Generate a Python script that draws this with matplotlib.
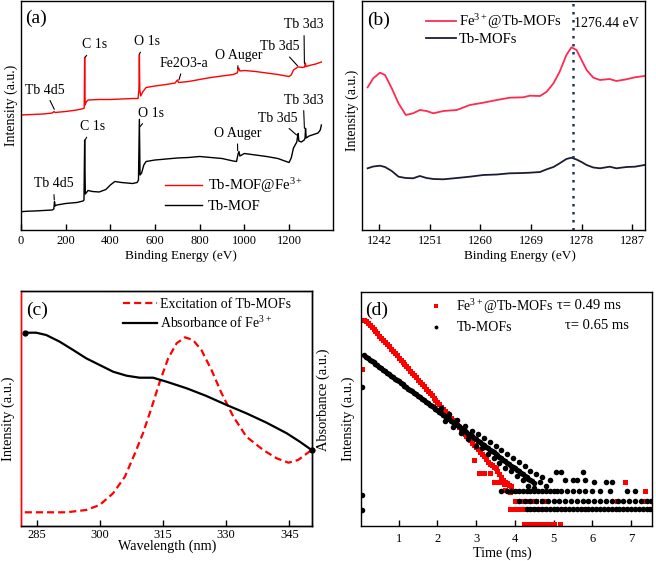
import matplotlib
matplotlib.use("Agg")
import matplotlib.pyplot as plt

plt.rcParams['font.family'] = ['Liberation Serif', 'DejaVu Serif']
plt.rcParams['mathtext.fontset'] = 'custom'
plt.rcParams['mathtext.rm'] = 'Liberation Serif'
plt.rcParams['mathtext.it'] = 'Liberation Serif:italic'

# ---------------- (a) XPS survey ----------------
survey_red_e = [0, 50, 100, 140, 148, 152, 200, 250, 280, 283, 285, 287, 292, 300, 350, 400, 450, 500,
                524, 528, 530, 532, 536, 545, 560, 600, 650, 690, 700, 705, 750, 800, 850, 900, 950,
                968, 975, 980, 1000, 1050, 1100, 1150, 1200, 1210, 1220, 1240, 1245, 1260, 1270,
                1273, 1276, 1300, 1320, 1345]
survey_red_i = [115, 115.5, 116, 117, 118.5, 117.5, 118.5, 120, 121.5, 122, 172.7, 125, 128, 130, 130.5,
                130.5, 131, 131.5, 131.5, 140, 175.5, 140, 134, 138, 142.5, 144, 145.5, 147, 150, 147.5,
                148.5, 150.5, 152.5, 154, 155.5, 157, 162, 159, 159.5, 158.5, 157, 155.5, 153.5, 155,
                160, 163, 163, 162.5, 163, 167, 163.5, 165, 166, 168]
survey_blk_e = [0, 30, 60, 100, 140, 147, 150, 153, 160, 200, 250, 278, 282, 285, 288, 295, 300, 320,
                350, 380, 400, 420, 450, 500, 520, 526, 530, 533, 540, 550, 560, 600, 650, 700, 750,
                800, 850, 900, 950, 965, 972, 976, 980, 1000, 1050, 1100, 1150, 1200, 1210, 1220,
                1235, 1238, 1241, 1244, 1255, 1268, 1272, 1274, 1277, 1290, 1310, 1330, 1340, 1345]
survey_blk_i = [18.3, 18.8, 19, 19.5, 20, 21, 28.3, 24, 25, 26.5, 27.5, 29, 30, 90, 36, 38, 39.5, 38.5,
                38, 40.5, 45, 48.5, 47.5, 46.5, 47.5, 50, 110.7, 55, 57, 65, 68.5, 70, 71, 72, 72.5,
                73.5, 72.5, 71.5, 69, 68.5, 76, 78.5, 74, 76.5, 75, 73.5, 71.5, 67.5, 72, 82, 88, 93,
                96.5, 89, 88, 90, 92, 101.7, 92, 94, 95.5, 97, 100, 105]
peak_names_red = ["Tb 4d5", "C 1s", "O 1s", "Fe2O3-a", "O Auger", "Tb 3d5", "Tb 3d3"]
peak_names_blk = ["Tb 4d5", "C 1s", "O 1s", "O Auger", "Tb 3d5", "Tb 3d3"]

# ---------------- (b) Tb 3d region ----------------
tb3d_e = [1239.9, 1240.9, 1242.1, 1243.0, 1244.2, 1245.4, 1246.7, 1248.0, 1249.2, 1250.4, 1251.6,
          1253.4, 1255.8, 1258.1, 1260.5, 1262.9, 1265.2, 1267.6, 1268.8, 1270.6, 1271.8, 1273.0,
          1274.1, 1275.3, 1276.2, 1277.1, 1278.0, 1278.9, 1280.1, 1281.3, 1283.0, 1284.2, 1286.0,
          1287.5, 1289.2]
tb3d_fe = [142.7, 151.7, 157.3, 155, 141.7, 126.7, 115, 116.7, 120, 119, 116.7, 119, 120, 125, 127.3,
           130, 132.3, 132.7, 134.3, 134, 138.3, 146.7, 158.3, 175, 182.7, 180, 170, 160, 152.3, 150,
           151, 149, 150.7, 152.7, 154]
tb3d_mof = [61.7, 63.5, 64.3, 63, 59, 53.3, 52, 51.7, 54, 52, 51, 50.7, 52, 53.3, 55, 55.5, 56.7, 57,
            57.3, 58, 60.7, 63, 66.7, 71, 72.3, 70.5, 68, 65, 62.5, 61.7, 63.3, 61.7, 63, 63.3, 65]
peak_pos = 1276.44

# ---------------- (c) spectral overlap ----------------
wl_abs = [282.1, 284.8, 287.2, 290.4, 293.6, 296.7, 299.9, 303.1, 306.3, 309.4, 312.6, 315.8,
          320.6, 325.3, 330.1, 334.8, 339.6, 344.4, 347.5, 350.3]
absorb_fe = [193.3, 193.3, 191, 184.3, 176, 167.7, 161, 154.3, 150.3, 148.3, 148.3, 144.3,
             137.7, 130, 121, 112.7, 103.3, 92.7, 84.3, 76]
wl_exc = [282.1, 292.0, 296.7, 299.9, 303.1, 305.9, 308.3, 310.2, 312.2, 314.2, 316.2, 318.2,
          320.2, 322.1, 324.1, 326.5, 328.9, 331.7, 334.8, 338.8, 342.0, 344.8, 347.1, 350.3]
excit_tb = [13.7, 13.7, 16, 21, 32.7, 49.3, 72.7, 92.7, 117.7, 144.3, 167.7, 182.7, 188.7, 186,
            176, 156, 132.7, 109.3, 89.3, 76, 67.7, 63.3, 66, 76]

# ---------------- (d) decay curves ----------------
# main decay part
t_fe_decay = [0.1, 0.15, 0.2, 0.25, 0.3, 0.35, 0.4, 0.45, 0.5, 0.55, 0.6, 0.65, 0.7, 0.75, 0.8,
              0.85, 0.9, 0.95, 1.0, 1.05, 1.1, 1.15, 1.2, 1.25, 1.3, 1.35, 1.4, 1.45, 1.5, 1.55,
              1.6, 1.65, 1.7, 1.75, 1.8, 1.85, 1.9, 1.95, 2.0, 2.05, 2.1, 2.15, 2.2, 2.25, 2.3,
              2.35, 2.4, 2.45, 2.5, 2.55, 2.6, 2.65, 2.7, 2.75, 2.8, 2.85, 2.9, 2.95, 3.0, 3.05,
              3.1, 3.15, 3.2, 3.25, 3.3, 3.35, 3.4, 3.45, 3.5, 3.55, 3.6, 3.65, 3.7, 3.75, 3.8,
              3.85, 3.9]
i_fe_decay = [206.5, 204.8, 203, 201, 199, 197, 195, 192.8, 190.5, 188.5, 186.5, 184.3, 182,
              179.8, 177.5, 175.3, 173, 170.8, 168.5, 166.3, 164, 162, 160, 157.8, 155.5, 153.3,
              151, 148.8, 146.5, 144.3, 142, 139.8, 137.5, 135.3, 133, 130.8, 128.5, 126.3, 124,
              121.8, 119.5, 117.3, 115, 112.8, 110.5, 108.3, 106, 103.8, 101.5, 99.3, 97, 94.8,
              92.5, 90.3, 88, 85.8, 83.5, 81.3, 79, 76.8, 74.5, 72.3, 70, 67, 64, 62.5, 61, 59.5,
              58, 55, 52, 49, 46, 44.5, 43, 41.5, 40]
# stray points and quantised tail
t_fe_tail = [0.04, 2.94, 3.07, 3.19, 3.37, 3.45, 3.58, 3.71, 3.75, 3.88, 4.01,
             4.0, 4.1, 4.2, 4.3, 4.45, 4.55, 4.7, 4.8, 6.64, 7.37,
             3.88, 3.95, 4.05, 4.15, 4.25, 4.35, 4.45, 4.55, 4.65, 4.75, 5.26, 5.78,
             4.23, 4.3, 4.4, 4.5, 4.6, 4.7, 4.8, 4.9, 5.0, 5.17,
             6.85, 7.37]
i_fe_tail = [156.7, 66, 53.3, 53.3, 53.3, 44.3, 44.3, 42, 36, 34.3, 35.3,
             25, 25, 25, 25, 25, 25, 25, 25, 25, 25,
             16.7, 16.7, 16.7, 16.7, 16.7, 16.7, 16.7, 16.7, 16.7, 16.7, 16.7, 16.7,
             1.7, 1.7, 1.7, 1.7, 1.7, 1.7, 1.7, 1.7, 1.7, 1.7,
             44.3, 35.3]
t_tb_decay = [0.1, 0.15, 0.2, 0.25, 0.3, 0.35, 0.4, 0.45, 0.5, 0.55, 0.6, 0.65, 0.7, 0.75, 0.8,
              0.85, 0.9, 0.95, 1.0, 1.05, 1.1, 1.15, 1.2, 1.25, 1.3, 1.35, 1.4, 1.45, 1.5, 1.55,
              1.6, 1.65, 1.7, 1.75, 1.8, 1.85, 1.9, 1.95, 2.0, 2.05, 2.1, 2.15, 2.2, 2.25, 2.3,
              2.35, 2.4, 2.45, 2.5, 2.55, 2.6, 2.65, 2.7, 2.75, 2.8, 2.85, 2.9, 2.95, 3.0, 3.05,
              3.1, 3.15, 3.2, 3.25, 3.3, 3.35, 3.4, 3.45, 3.5, 3.55, 3.6, 3.65, 3.7, 3.75, 3.8,
              3.85, 3.9, 3.95, 4.0, 4.05, 4.1, 4.15, 4.2, 4.25, 4.3, 4.35, 4.4, 4.45, 4.5]
i_tb_decay = [171, 169.5, 168, 166.5, 165, 163.7, 162.3, 160.8, 159.3, 157.9, 156.5, 155, 153.5,
              152, 150.5, 149, 147.5, 146.1, 144.7, 143.3, 141.8, 140.4, 139, 137.5, 136, 134.6,
              133.2, 131.8, 130.3, 128.9, 127.4, 126, 124.5, 123, 121.5, 120, 118.6, 117.2,
              115.7, 114.3, 112.8, 111.4, 110, 108.5, 107, 105.5, 104, 102.6, 101.2, 99.8, 98.3,
              96.9, 95.4, 94, 92.5, 91, 89.6, 88.2, 86.7, 85.3, 83.8, 82.4, 80.9, 79.5, 78, 76.5,
              75, 73.6, 72.1, 70.7, 69.2, 67.8, 66.3, 64.9, 63.4, 62, 60.5, 59.1, 57.7, 56.3,
              54.8, 53.4, 52, 50.5, 49, 47.5, 46, 44.7, 43.3]
t_tb_tail = [0.04, 0.04, 0.04,
             2.1, 2.2, 2.3, 2.4, 2.5, 2.6, 2.7, 2.8, 2.9, 3.0, 3.05, 3.15, 3.2, 3.3, 3.35, 3.45,
             3.5, 3.6, 3.65, 3.75, 3.8, 3.9, 3.95, 4.05, 4.1, 4.2, 4.25, 4.35, 4.4, 4.5, 4.55,
             4.65, 4.7, 4.8, 4.9, 5.05, 5.2, 5.3, 5.5, 5.6, 5.75, 5.8, 6.03, 6.34, 6.51,
             3.65, 3.8, 3.9, 4.0, 4.1, 4.2, 4.3, 4.4, 4.5, 4.6, 4.7, 4.8, 4.9, 5.0, 5.1, 5.2, 5.35,
             5.5, 5.65, 5.8, 6.0, 6.2, 6.45, 6.9, 7.1,
             4.1, 4.25, 4.4, 4.55, 4.7, 4.85, 5.0, 5.15, 5.3, 5.45, 5.6, 5.75, 5.9, 6.05, 6.2,
             6.35, 6.5, 6.65, 6.8, 6.95, 7.1, 7.25, 7.4, 7.52,
             4.3, 4.4, 4.5, 4.6, 4.7, 4.8, 4.9, 5.0, 5.1, 5.2, 5.3, 5.4, 5.5, 5.6, 5.7, 5.8, 5.9,
             6.0, 6.1, 6.2, 6.3, 6.4, 6.5, 6.6, 6.7, 6.8, 6.9, 7.0, 7.1, 7.2, 7.3, 7.4, 7.5]
i_tb_tail = [138.7, 31, 16,
             118, 105, 112, 99, 106, 93, 100, 87, 95, 80, 92, 78, 88, 72, 84, 68, 80, 63, 76, 58,
             72, 55, 68, 50, 64, 46, 60, 40, 55, 38, 52, 44, 49, 40, 46, 54, 54, 46, 46, 46, 54,
             46, 44.3, 44.3, 44.3,
             35.3, 35.3, 35.3, 35.3, 35.3, 35.3, 35.3, 35.3, 35.3, 35.3, 35.3, 35.3, 35.3, 35.3,
             35.3, 35.3, 35.3, 35.3, 35.3, 35.3, 35.3, 35.3, 35.3, 35.3, 35.3,
             25, 25, 25, 25, 25, 25, 25, 25, 25, 25, 25, 25, 25, 25, 25, 25, 25, 25, 25, 25, 25,
             25, 25, 25,
             16.7, 16.7, 16.7, 16.7, 16.7, 16.7, 16.7, 16.7, 16.7, 16.7, 16.7, 16.7, 16.7, 16.7,
             16.7, 16.7, 16.7, 16.7, 16.7, 16.7, 16.7, 16.7, 16.7, 16.7, 16.7, 16.7, 16.7, 16.7,
             16.7, 16.7, 16.7, 16.7, 16.7]

W, H = 656, 561
fig = plt.figure(figsize=(W / 100, H / 100), dpi=100)


def px_axes(x0, y0, x1, y1):
    return fig.add_axes([x0 / W, 1 - y1 / H, (x1 - x0) / W, (y1 - y0) / H])


def style(ax, fs=9):
    for s in ax.spines.values():
        s.set_linewidth(1.0)
    ax.tick_params(axis='x', direction='in', length=4, width=1, labelsize=fs)
    ax.tick_params(axis='y', left=False, labelleft=False, right=False, labelright=False)


# ---- (a)
ax = px_axes(21, 1, 333, 230)
style(ax)
ax.plot(survey_red_e, survey_red_i, color='#ff0000', lw=1.0, label='Tb-MOF@Fe$^{3+}$')
ax.plot(survey_blk_e, survey_blk_i, color='black', lw=1.0, label='Tb-MOF')
ax.set_xlim(0, 1397)
ax.set_ylim(0, 229)
ax.set_xticks([0, 200, 400, 600, 800, 1000, 1200])
ax.set_xlabel('Binding Energy (eV)', fontsize=9.5, labelpad=2, x=0.514)
ax.set_ylabel('Intensity (a.u.)', fontsize=10, labelpad=2, y=0.546)
ax.text(0.013, 0.926, '(a)', transform=ax.transAxes, fontsize=14, va='center')
red_txt = [(107, 140), (331, 185), (563, 188.3), (730, 166.7), (976, 175), (1160, 183.3), (1267, 205)]
red_tip = [(149, 120.7), (287, 172.7), (530, 176), (707, 150), (970, 161), (1239, 164), (1269, 166.7)]
for name, txt, tip in zip(peak_names_red, red_txt, red_tip):
    ax.annotate(name, xy=tip, xytext=txt, ha='center', va='center', fontsize=10,
                arrowprops=dict(arrowstyle='-', lw=0.8, color='black', shrinkA=1, shrinkB=0))
blk_txt = [(145, 46), (321, 103.3), (581, 116.7), (969, 96.7), (1148, 111.7), (1264, 130)]
blk_tip = [(149, 30), (287, 90), (533, 103.3), (970, 79.3), (1234, 95), (1269, 101.7)]
for name, txt, tip in zip(peak_names_blk, blk_txt, blk_tip):
    ax.annotate(name, xy=tip, xytext=txt, ha='center', va='center', fontsize=10,
                arrowprops=dict(arrowstyle='-', lw=0.8, color='black', shrinkA=1, shrinkB=0))
ax.legend(loc='center left', bbox_to_anchor=(0.46, 0.155), frameon=False, fontsize=10.5,
          handlelength=2.6, handletextpad=0.35, labelspacing=0.35, borderpad=0, borderaxespad=0)

# ---- (b)
ax = px_axes(362, 1, 645, 230)
style(ax)
ax.plot(tb3d_e, tb3d_fe, color='#ff2a50', lw=1.3, label='Fe$^{3+}$@Tb-MOFs')
ax.plot(tb3d_e, tb3d_mof, color='#1b1d35', lw=1.3, label='Tb-MOFs')
ax.axvline(peak_pos, color='#22335e', lw=1.8, ls=(0, (1, 2.2)))
ax.set_xlim(1238.9, 1289.3)
ax.set_ylim(0, 229)
ax.set_xticks([1242, 1251, 1260, 1269, 1278, 1287])
ax.set_xlabel('Binding Energy (eV)', fontsize=9.5, labelpad=2, x=0.558)
ax.set_ylabel('Intensity (a.u.)', fontsize=10, labelpad=2, y=0.524)
ax.text(0.018, 0.917, '(b)', transform=ax.transAxes, fontsize=14, va='center')
ax.text(peak_pos + 0.3, 0.9, '%.2f eV' % peak_pos, transform=ax.get_xaxis_transform(),
        fontsize=10, va='center')
ax.legend(loc='center left', bbox_to_anchor=(0.225, 0.878), frameon=False, fontsize=10.5,
          handlelength=2.1, handletextpad=0.2, labelspacing=0.15, borderpad=0, borderaxespad=0)

# ---- (c)
ax = px_axes(21, 291, 312, 526)
ax2 = ax.twinx()
style(ax)
style(ax2)
ax.tick_params(axis='x', pad=2)
ax.spines['left'].set_color('#ff0000')
ax2.spines['left'].set_color('#ff0000')
l1, = ax.plot(wl_exc, excit_tb, color='#ff0000', lw=1.6, ls=(0, (3.2, 1.8)),
              label='Excitation of Tb-MOFs')
l2, = ax2.plot(wl_abs, absorb_fe, color='black', lw=1.6, label='Absorbance of Fe$^{3+}$')
ax2.plot([wl_abs[0], wl_abs[-1]], [absorb_fe[0], absorb_fe[-1]], ls='none', marker='o',
         ms=3.5, color='black', clip_on=False)
for a in (ax, ax2):
    a.set_xlim(281.2, 350.4)
    a.set_ylim(0, 235)
ax.set_xticks([285, 300, 315, 330, 345])
ax.set_xlabel('Wavelength (nm)', fontsize=10.2, labelpad=-1, x=0.503)
ax.set_ylabel('Intensity (a.u.)', fontsize=10.4, labelpad=4, y=0.457)
ax2.set_ylabel('Absorbance (a.u.)', fontsize=10.4, labelpad=3, y=0.536, rotation=90,
               va='top')
ax.text(0.017, 0.919, '(c)', transform=ax.transAxes, fontsize=14, va='center')
ax2.legend(handles=[l1, l2], loc='center left', bbox_to_anchor=(0.35, 0.9), frameon=False,
           fontsize=10, handlelength=2.45, handletextpad=0.25, labelspacing=0.3, borderpad=0,
           borderaxespad=0)

# ---- (d)
ax = px_axes(361, 292, 652, 526)
style(ax)
ax.tick_params(axis='x', pad=5)
ax.plot(t_fe_decay + t_fe_tail, i_fe_decay + i_fe_tail, ls='none', marker='s', ms=3.6, mew=0,
        color='#ff0000', label='Fe$^{3+}$@Tb-MOFs')
ax.plot(t_tb_decay + t_tb_tail, i_tb_decay + i_tb_tail, ls='none', marker='o', ms=4.0, mew=0,
        color='black', label='Tb-MOFs')
ax.set_xlim(0.027, 7.54)
ax.set_ylim(0, 234)
ax.set_xticks([1, 2, 3, 4, 5, 6, 7])
ax.set_xlabel('Time (ms)', fontsize=10.2, labelpad=1, x=0.486)
ax.set_ylabel('Intensity (a.u.)', fontsize=10.4, labelpad=4, y=0.46)
ax.text(0.014, 0.923, '(d)', transform=ax.transAxes, fontsize=14, va='center')
ax.text(0.6735, 0.9415, 'τ= 0.49 ms', transform=ax.transAxes, fontsize=10.5, va='center')
ax.text(0.701, 0.856, 'τ= 0.65 ms', transform=ax.transAxes, fontsize=10.5, va='center')
ax.legend(loc='center left', bbox_to_anchor=(0.235, 0.899), frameon=False, fontsize=10,
          handlelength=1.0, handletextpad=0.95, labelspacing=0.4, borderpad=0, borderaxespad=0,
          markerscale=0.7)

fig.savefig('out.png', dpi=100)
